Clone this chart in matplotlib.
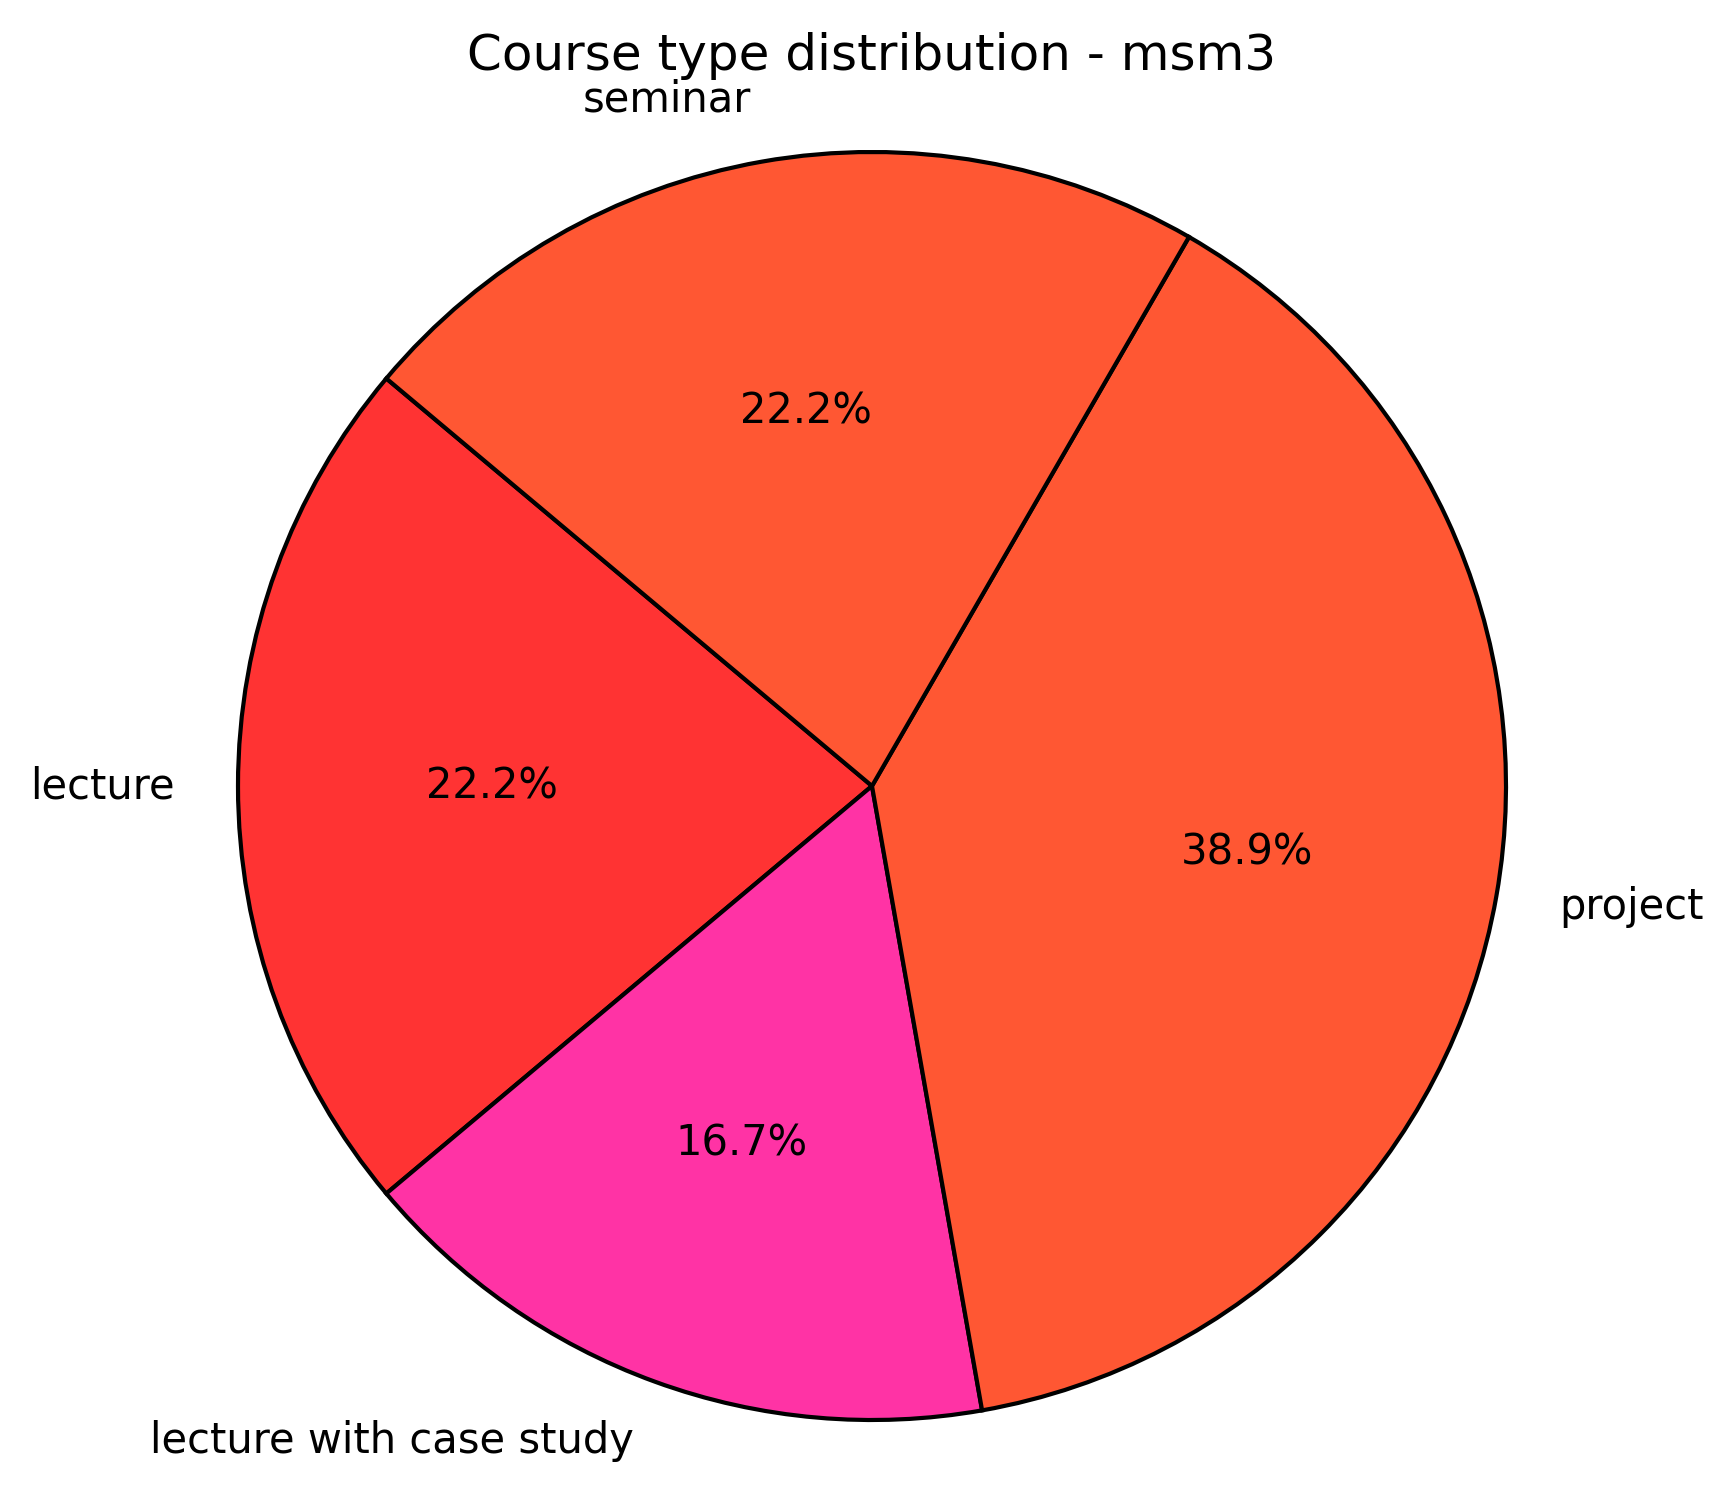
import matplotlib
matplotlib.use("Agg")
import matplotlib.pyplot as plt

labels = ["lecture", "lecture with case study", "project", "seminar"]
counts = [4, 3, 7, 4]
colors = ["#FF3333", "#FF33A5", "#FF5733", "#FF5733"]
title = "Course type distribution - msm3"

W, H, DPI = 1733, 1509, 300
fig = plt.figure(figsize=(W / DPI, H / DPI), dpi=DPI)
cx, cy, r = 872, 1509 - 786, 634
ax = fig.add_axes([(cx - r) / W, (cy - r) / H, 2 * r / W, 2 * r / H])
wedges, texts, autotexts = ax.pie(
    counts, labels=labels, colors=colors, autopct="%1.1f%%", startangle=140,
    wedgeprops={"edgecolor": "black", "linewidth": 1}, textprops={"fontsize": 10})
for w in wedges:
    w.set_clip_on(False)
ax.set_xlim(-1, 1)
ax.set_ylim(-1, 1)
ax.axis("off")
fig.text(cx / W, 1 - 70 / H, title, ha="center", va="baseline", fontsize=12)
fig.savefig("out.png", dpi=DPI)
